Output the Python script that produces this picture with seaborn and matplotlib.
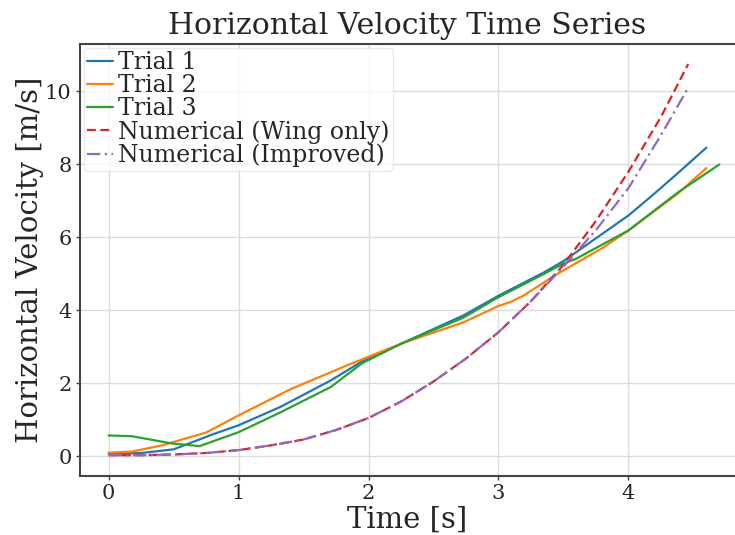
import numpy as np
import pandas as pd
import matplotlib
matplotlib.use("Agg")
import matplotlib.pyplot as plt
import seaborn as sns

# ---- data ----
t1_time = [0.0, 0.25, 0.5, 0.8, 1.0, 1.32, 1.71, 1.95, 2.26, 2.73, 3.0, 3.35, 3.5, 3.6, 4.0, 4.2, 4.38, 4.6]
t1_vel  = [0.07, 0.09, 0.19, 0.6, 0.85, 1.35, 2.08, 2.6, 3.1, 3.86, 4.4, 5.04, 5.35, 5.6, 6.6, 7.2, 7.76, 8.46]

t2_time = [0.0, 0.18, 0.41, 0.75, 1.0, 1.4, 1.84, 2.26, 2.73, 3.0, 3.1, 3.2, 3.43, 3.6, 3.81, 4.0, 4.38, 4.6]
t2_vel  = [0.1, 0.13, 0.3, 0.65, 1.12, 1.84, 2.5, 3.1, 3.67, 4.12, 4.24, 4.42, 4.95, 5.3, 5.73, 6.19, 7.2, 7.9]

t3_time = [0.0, 0.18, 0.49, 0.7, 1.0, 1.32, 1.71, 1.95, 2.26, 2.73, 3.0, 3.35, 3.5, 3.6, 4.0, 4.38, 4.7]
t3_vel  = [0.57, 0.55, 0.35, 0.28, 0.66, 1.2, 1.9, 2.55, 3.1, 3.8, 4.36, 5.0, 5.28, 5.42, 6.19, 7.23, 8.0]

num_time = [0.0, 0.25, 0.5, 0.75, 1.0, 1.25, 1.5, 1.75, 2.0, 2.25, 2.5, 2.75, 3.0, 3.25, 3.5, 3.75, 4.0, 4.25, 4.46]
wing_vel = [0.03, 0.03, 0.05, 0.09, 0.17, 0.3, 0.46, 0.72, 1.05, 1.5, 2.05, 2.68, 3.4, 4.25, 5.25, 6.45, 7.8, 9.3, 10.75]
impr_vel = [0.03, 0.03, 0.05, 0.09, 0.17, 0.3, 0.46, 0.72, 1.05, 1.5, 2.05, 2.68, 3.4, 4.25, 5.2, 6.2, 7.35, 8.8, 10.1]

labels = ["Trial 1", "Trial 2", "Trial 3", "Numerical (Wing only)", "Numerical (Improved)"]
colors = ["#1f77b4", "#ff7f0e", "#2ca02c", "#d62728", "#9467bd"]

sns.set_theme(style="whitegrid")
plt.rcParams["font.family"] = ["DejaVu Serif"]

fig = plt.figure(figsize=(7.35, 5.35), dpi=100)
ax = fig.add_axes([80/735, 1-476/535, 1-80/735, (476-44)/535])

series = [(t1_time, t1_vel), (t2_time, t2_vel), (t3_time, t3_vel), (num_time, wing_vel), (num_time, impr_vel)]
styles = ["-", "-", "-", (0, (4, 2)), (0, (6, 2, 1, 2))]
for (tx, vy), lab, col, ls in zip(series, labels, colors, styles):
    sns.lineplot(x=tx, y=vy, ax=ax, color=col, label=lab, linewidth=1.6, linestyle=ls, sort=False)

ax.set_xlim(-0.22, 4.82)
ax.set_ylim(-0.54, 11.3)
ax.set_xticks([0, 1, 2, 3, 4])
ax.set_yticks([0, 2, 4, 6, 8, 10])
ax.tick_params(axis="both", direction="out", labelsize=15, length=3, width=1,
               color="#444444", left=True, bottom=True, pad=3)
ax.grid(True, color="#dcdcdc", linewidth=1.0)
for s in ["left", "bottom", "top"]:
    ax.spines[s].set_color("#444444")
    ax.spines[s].set_linewidth(1.5)
ax.spines["right"].set_visible(False)

ax.set_title("Horizontal Velocity Time Series", fontsize=21.5, pad=7)
ax.set_xlabel("Time [s]", fontsize=21, labelpad=2)
ax.set_ylabel("Horizontal Velocity [m/s]", fontsize=21, labelpad=1)

leg = ax.legend(loc="upper left", fontsize=17, handlelength=1.1, handletextpad=0.2,
                labelspacing=0.0, borderpad=0.15, borderaxespad=0.15, frameon=True)
leg.get_frame().set_edgecolor("#e5e5e5")

fig.savefig("out.png", dpi=100)
